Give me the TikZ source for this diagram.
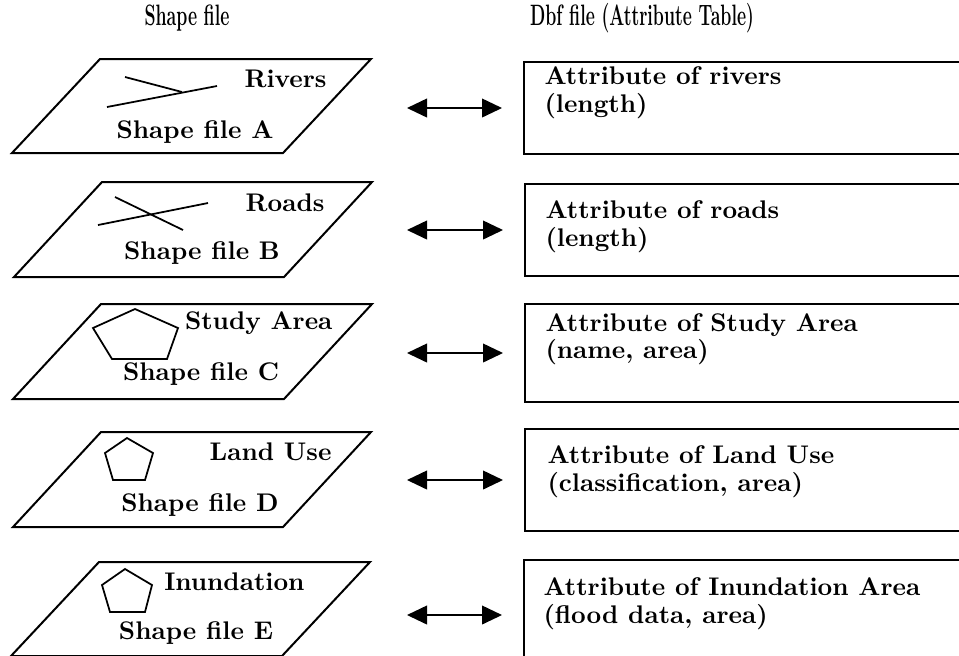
\documentclass[tikz,border=0pt]{standalone}
\usepackage{tikz}
\usetikzlibrary{arrows.meta,calc}

\begin{document}
\begin{tikzpicture}[
  x=0.4pt, y=-0.4pt,
  shp/.style={line width=0.8pt, line join=miter},
  glyph/.style={line width=0.7pt},
  attr/.style={draw, line width=0.8pt, anchor=north west, inner sep=0pt,
               minimum width=180pt},
  arr/.style={{Triangle[length=8pt,width=7.5pt]}-{Triangle[length=8pt,width=7.5pt]},
              line width=0.6pt, shorten >=8.4pt},
  lab/.style={font=\bfseries\fontsize{10.2}{11}\selectfont, inner sep=0pt},
  txt/.style={lab, anchor=west, align=left},
  hdr/.style={inner sep=0pt}
]
  \useasboundingbox (0,0) rectangle (959,655);
  \clip (0,0) rectangle (959,655);

  % column headings
  \node[hdr] (hshp) at (187,18) {\scalebox{0.6}[1]{\bfseries\fontsize{11.8}{12}\selectfont Shape file}};
  \node[hdr] (hdbf) at (642,18) {\scalebox{0.6}[1]{\bfseries\fontsize{11.8}{12}\selectfont Dbf file (Attribute Table)}};

  % shape file layers (parallelograms)
  \draw[shp] (12,153) -- ++(271,0) -- ++(88,-94) -- ++(-271,0) -- cycle;
  \draw[shp] (14,277) -- ++(270,0) -- ++(88,-95) -- ++(-270,0) -- cycle;
  \draw[shp] (13,399) -- ++(271,0) -- ++(88,-95) -- ++(-271,0) -- cycle;
  \draw[shp] (13,527) -- ++(270,0) -- ++(88,-95) -- ++(-270,0) -- cycle;
  \draw[shp] (11,656) -- ++(271,0) -- ++(88,-94) -- ++(-271,0) -- cycle;

  % feature glyphs
  \draw[glyph] (125,77) -- (182,92);
  \draw[glyph] (107,107) -- (217,86);
  \draw[glyph] (115,197) -- (183,230);
  \draw[glyph] (98,225) -- (208,203);
  \draw[glyph] (135,309) -- (178,328) -- (167,359) -- (112,359) -- (93,328) -- cycle;
  \draw[glyph] (127,438) -- (153,453) -- (145,480) -- (113,480) -- (105,453) -- cycle;
  \draw[glyph] (125,569) -- (152,585) -- (145,612) -- (110,612) -- (102,585) -- cycle;

  % layer labels
  \node[lab, anchor=east] (rivers) at (327,79) {Rivers};
  \node[lab] (shpA) at (195,132) {Shape file A};
  \node[lab, anchor=east] (roads) at (325,203) {Roads};
  \node[lab] (shpB) at (202,253) {Shape file B};
  \node[lab, anchor=east] (study) at (333,323) {Study Area};
  \node[lab] (shpC) at (201,374) {Shape file C};
  \node[lab, anchor=east] (landuse) at (332,452) {Land Use};
  \node[lab] (shpD) at (200,505) {Shape file D};
  \node[lab, anchor=east] (inund) at (305,582) {Inundation};
  \node[lab] (shpE) at (196,633) {Shape file E};

  % attribute tables
  \node[attr, minimum height=36.8pt] (boxA) at (523,61) {};
  \node[attr, minimum height=36.8pt] (boxB) at (524,183) {};
  \node[attr, minimum height=39.2pt] (boxC) at (524,303) {};
  \node[attr, minimum height=40.8pt] (boxD) at (524,428) {};
  \node[attr, minimum height=44pt]   (boxE) at (523,559) {};

  \node[txt] (attA) at (544,92.5) {Attribute of rivers\\(length)};
  \node[txt] (attB) at (545,226.5) {Attribute of roads\\(length)};
  \node[txt] (attC) at (545,339) {Attribute of Study Area\\(name, area)};
  \node[txt] (attD) at (547,471.5) {Attribute of Land Use\\(classification, area)};
  \node[txt] (attE) at (543,603.5) {Attribute of Inundation Area\\(flood data, area)};

  % links between layer and table
  \foreach \r in {A,B,C,D,E} {
    \coordinate (l\r) at (407,0 |- box\r.west);
    \draw[arr] (l\r) -- (l\r -| box\r.west);
  }
\end{tikzpicture}
\end{document}
